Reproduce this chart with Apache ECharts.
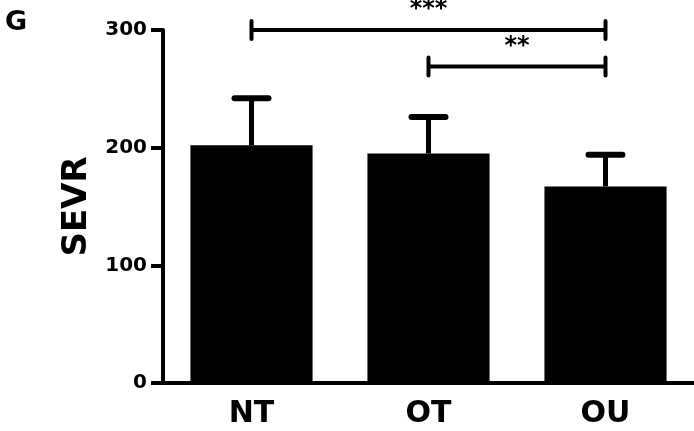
<!DOCTYPE html>
<html>
<head>
<meta charset="utf-8">
<script src="https://cdn.jsdelivr.net/npm/echarts@6/dist/echarts.min.js"></script>
<style>
  html, body { margin: 0; padding: 0; background: #fff; }
  #sevr { width: 694px; height: 431px; }
</style>
</head>
<body>
<div id="sevr"></div>
<script>
// groups and values
var categories = ["NT", "OT", "OU"];
var means = [202, 195, 167];
var errTop = [242, 226, 194];
// significance brackets: [from index, to index, y value, label]
var brackets = [
  [0, 2, 300, "***"],
  [1, 2, 269, "**"]
];
var yTicks = [0, 100, 200, 300];

var font = "DejaVu Sans";

var chart = echarts.init(document.getElementById("sevr"));
chart.setOption({
  animation: false,
  backgroundColor: "#fff",
  title: {
    text: "G",
    left: 0,
    top: 4,
    textStyle: { fontFamily: font, fontWeight: "bold", fontSize: 27, color: "#000" }
  },
  grid: { left: 163, right: 0, top: 30, bottom: 48 },
  xAxis: {
    type: "category",
    data: categories,
    axisLine: { lineStyle: { color: "#000", width: 4 } },
    axisTick: { alignWithLabel: true, length: 10, lineStyle: { color: "#000", width: 4 } },
    axisLabel: { margin: 16, color: "#000", fontFamily: font, fontWeight: "bold", fontSize: 30 }
  },
  yAxis: {
    type: "value",
    min: yTicks[0],
    max: yTicks[yTicks.length - 1],
    interval: 100,
    name: "SEVR",
    nameLocation: "middle",
    nameGap: 69,
    nameTextStyle: { color: "#000", fontFamily: font, fontWeight: "bold", fontSize: 34 },
    splitLine: { show: false },
    axisLine: { show: true, lineStyle: { color: "#000", width: 4 } },
    axisTick: { show: true, length: 12, lineStyle: { color: "#000", width: 4 } },
    axisLabel: { margin: 16, color: "#000", fontFamily: font, fontWeight: "bold", fontSize: 20 }
  },
  series: [
    {
      type: "bar",
      data: means,
      barWidth: "69%",
      itemStyle: { color: "#000" },
      z: 1
    },
    {
      // error bars (upper only)
      type: "custom",
      z: 3,
      data: categories.map(function (c, i) { return [i, means[i], errTop[i]]; }),
      renderItem: function (params, api) {
        var lo = api.coord([api.value(0), api.value(1)]);
        var hi = api.coord([api.value(0), api.value(2)]);
        var half = 17;
        var st = { stroke: "#000", lineWidth: 6, lineCap: "round" };
        return {
          type: "group",
          children: [
            { type: "line", shape: { x1: lo[0], y1: lo[1], x2: hi[0], y2: hi[1] }, style: { stroke: "#000", lineWidth: 5 } },
            { type: "line", shape: { x1: hi[0] - half, y1: hi[1], x2: hi[0] + half, y2: hi[1] }, style: st }
          ]
        };
      }
    },
    {
      // significance brackets
      type: "custom",
      z: 3,
      clip: false,
      data: brackets,
      renderItem: function (params, api) {
        var b = brackets[params.dataIndex];
        var a = api.coord([b[0], b[2]]);
        var c = api.coord([b[1], b[2]]);
        var st = { stroke: "#000", lineWidth: 4, lineCap: "round" };
        return {
          type: "group",
          children: [
            { type: "line", shape: { x1: a[0], y1: a[1], x2: c[0], y2: c[1] }, style: { stroke: "#000", lineWidth: 4 } },
            { type: "line", shape: { x1: a[0], y1: a[1] - 9, x2: a[0], y2: a[1] + 9 }, style: st },
            { type: "line", shape: { x1: c[0], y1: c[1] - 9, x2: c[0], y2: c[1] + 9 }, style: st },
            {
              type: "text",
              x: (a[0] + c[0]) / 2,
              y: a[1] - 8,
              style: {
                text: b[3],
                fill: "#000",
                font: "bold 24px '" + font + "'",
                align: "center",
                verticalAlign: "bottom"
              }
            }
          ]
        };
      }
    }
  ]
});
</script>
</body>
</html>
